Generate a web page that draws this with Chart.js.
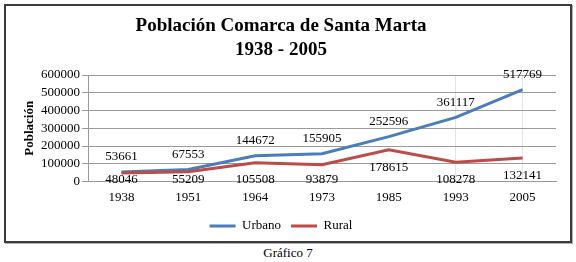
<!DOCTYPE html>
<html>
<head>
<meta charset="utf-8">
<script src="https://cdn.jsdelivr.net/npm/chart.js@4/dist/chart.umd.min.js"></script>
<style>
  html, body { margin: 0; padding: 0; background: #fff; }
  body { width: 576px; height: 262px; position: relative; overflow: hidden; font-family: "Liberation Serif", serif; }
  #box { position: absolute; left: 4px; top: 4px; width: 568px; height: 239px; box-sizing: border-box;
         border: 2px solid #3c3c3c; box-shadow: 1px 1px 0 #b0b0b0; }
  #wrap { position: absolute; left: 0; top: 0; width: 564px; height: 237px; }
  #foot { position: absolute; left: 0; width: 576px; top: 245px; text-align: center; font-size: 13px; color: #000; line-height: 16px; }
</style>
</head>
<body>
<div id="box"><div id="wrap"><canvas id="c" width="564" height="237"></canvas></div></div>
<div id="foot">Gráfico 7</div>
<script>
const titleLines = ['Población Comarca de Santa Marta', '1938 - 2005'];
const yAxisTitle = 'Población';
const years = ['1938', '1951', '1964', '1973', '1985', '1993', '2005'];
const urbano = [53661, 67553, 144672, 155905, 252596, 361117, 517769];
const rural = [48046, 55209, 105508, 93879, 178615, 108278, 132141];
const seriesNames = ['Urbano', 'Rural'];
const yMin = 0, yMax = 600000, yStep = 100000;

const serif = '"Liberation Serif", "Times New Roman", serif';
Chart.defaults.font.family = serif;
Chart.defaults.color = '#000';

const labelPlugin = {
  id: 'valueLabels',
  afterDatasetsDraw(chart) {
    const ctx = chart.ctx;
    const area = chart.chartArea;
    ctx.save();
    ctx.font = '13px ' + serif;
    ctx.fillStyle = '#000';
    ctx.textAlign = 'center';
    ctx.textBaseline = 'middle';
    chart.data.datasets.forEach((ds, di) => {
      const meta = chart.getDatasetMeta(di);
      meta.data.forEach((pt, i) => {
        const text = String(ds.data[i]);
        let y;
        if (di === 0) {
          y = pt.y - 15;
        } else {
          y = Math.min(pt.y + 18, area.bottom - 2);
        }
        ctx.fillText(text, pt.x, y);
      });
    });
    ctx.restore();
  }
};

new Chart(document.getElementById('c'), {
  type: 'line',
  data: {
    labels: years,
    datasets: [
      { label: seriesNames[0], data: urbano, borderColor: '#4A7EBB', backgroundColor: '#4A7EBB',
        borderWidth: 3, pointRadius: 0, tension: 0, order: 1 },
      { label: seriesNames[1], data: rural, borderColor: '#BE4B48', backgroundColor: '#BE4B48',
        borderWidth: 3, pointRadius: 0, tension: 0, order: 0 }
    ]
  },
  options: {
    responsive: false,
    animation: false,
    devicePixelRatio: 1,
    layout: { padding: { left: 0, right: 14, top: 0, bottom: 0.5 } },
    plugins: {
      title: {
        display: true,
        text: titleLines,
        color: '#000',
        font: { family: serif, size: 19, weight: 'bold', lineHeight: 1.25 },
        padding: { top: 8.5, bottom: 13 }
      },
      legend: {
        display: true,
        position: 'bottom',
        labels: {
          color: '#000',
          font: { family: serif, size: 13, lineHeight: 1 },
          usePointStyle: true,
          pointStyle: 'line',
          pointStyleWidth: 26,
          padding: 10,
          sort: (a, b) => a.datasetIndex - b.datasetIndex
        }
      },
      tooltip: { enabled: false }
    },
    scales: {
      x: {
        offset: true,
        grid: {
          display: true,
          offset: false,
          drawTicks: false,
          color: (c) => (c.index === 5 || c.index === 6) ? '#e4e4e4' : 'rgba(0,0,0,0)'
        },
        border: { display: true, color: '#999' },
        ticks: { color: '#000', font: { family: serif, size: 13 }, padding: 8, maxRotation: 0 },
        afterFit: (s) => { s.height = 28; }
      },
      y: {
        min: yMin, max: yMax,
        grid: { color: '#9a9a9a', tickLength: 6, drawTicks: true },
        border: { display: true, color: '#9a9a9a' },
        ticks: { stepSize: yStep, autoSkip: false, color: '#000', font: { family: serif, size: 13 }, padding: 2,
                 callback: (v) => String(v) },
        title: {
          display: true,
          text: yAxisTitle,
          color: '#000',
          font: { family: serif, size: 13, weight: 'bold' },
          padding: { top: 16, bottom: 0 }
        },
        afterFit: (s) => { s.width = 82; }
      }
    }
  },
  plugins: [labelPlugin]
});
</script>
</body>
</html>
